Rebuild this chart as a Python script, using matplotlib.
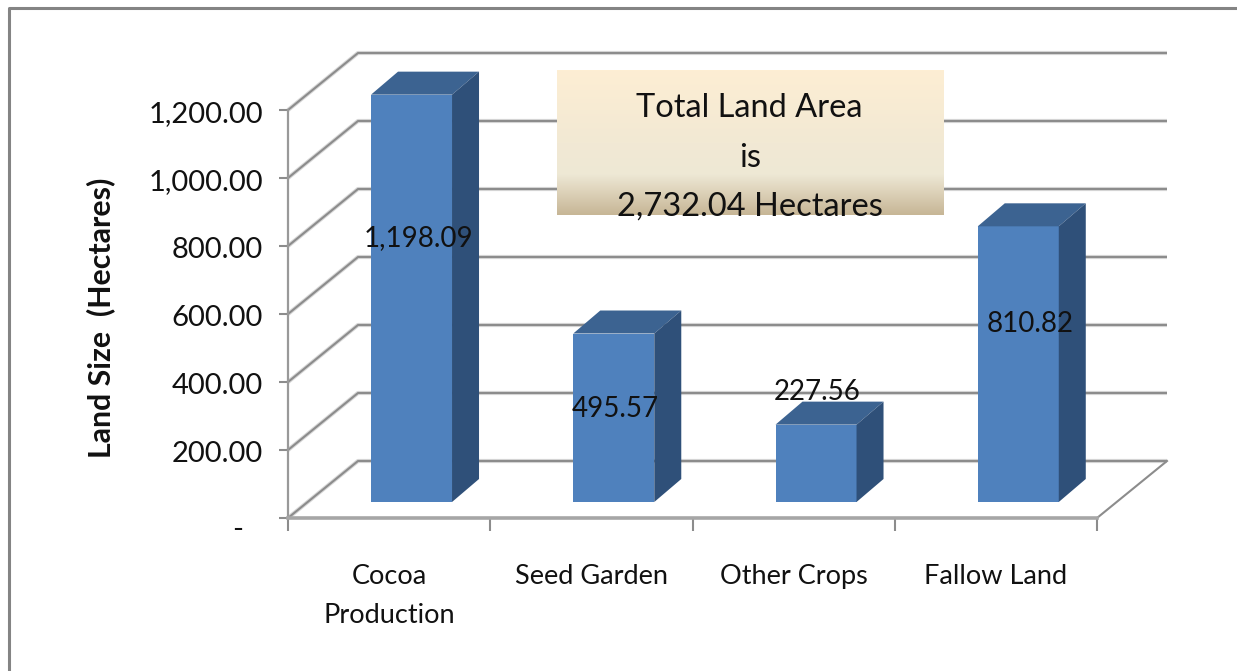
import numpy as np
import matplotlib
matplotlib.use("Agg")
import matplotlib.pyplot as plt
from matplotlib.transforms import ScaledTranslation

plt.rcParams["font.family"] = ["Lato", "DejaVu Sans"]

# Chart data
categories = ["Cocoa\nProduction", "Seed Garden", "Other Crops", "Fallow Land"]
land_size = [1198.09, 495.57, 227.56, 810.82]
land_labels = ["1,198.09", "495.57", "227.56", "810.82"]
y_ticks = [0, 200, 400, 600, 800, 1000, 1200]
y_tick_labels = ["-", "200.00", "400.00", "600.00", "800.00", "1,000.00", "1,200.00"]
box_lines = ["Total Land Area", "is", "2,732.04 Hectares"]

W, H = 1237, 671
# plot area in pixels of the picture
left, right, top, bottom = 288, 1097, 110, 518

fig = plt.figure(figsize=(W / 100, H / 100), dpi=100, facecolor="white")
ax = fig.add_axes([left / W, 1 - bottom / H, (right - left) / W, (bottom - top) / H])
ax.set_xlim(-0.5, 3.5)
ax.set_ylim(0, 1200)
ax.patch.set_visible(False)

# pixel sizes to data units
ux = 4 / (right - left)
uy = 1200 / (bottom - top)

grid_col = "#8c8c8c"
wall_dx, wall_dy = 70 * ux, 57 * uy

# gridlines on side wall and back wall
for v in y_ticks:
    xs = [-0.5, -0.5 + wall_dx, 3.5 + wall_dx]
    ys = [v, v + wall_dy, v + wall_dy]
    ax.plot(xs, ys, color="#d8d8d8", lw=3, clip_on=False, zorder=1, solid_capstyle="butt")
    ax.plot(xs, ys, color=grid_col, lw=1.5, clip_on=False, zorder=1.1, solid_capstyle="butt")

# floor right edge
ax.plot([3.5, 3.5 + wall_dx], [0, wall_dy], color=grid_col, lw=1.5, clip_on=False, zorder=1.1)

# bars
bar_w = 81 * ux
shift_x, shift_y = 22.4 * ux, 16 * uy
dep_x, dep_y = 27 * ux, 23 * uy
x = np.arange(len(categories)) + shift_x
ax.bar(x, land_size, width=bar_w, bottom=shift_y, color="#4f81bd", clip_on=False, zorder=3)
for xi, val in zip(x, land_size):
    l, r = xi - bar_w / 2, xi + bar_w / 2
    b, t = shift_y, shift_y + val
    ax.fill([l, r, r + dep_x, l + dep_x], [t, t, t + dep_y, t + dep_y],
            color="#3c6391", lw=0, clip_on=False, zorder=3)
    ax.fill([r, r + dep_x, r + dep_x, r], [b, b + dep_y, t + dep_y, t],
            color="#2f5079", lw=0, clip_on=False, zorder=3)

# data labels, picture pixels
label_px = [(419, 238), (615, 409), (817, 392), (1030, 324)]
for (px, py), txt in zip(label_px, land_labels):
    fig.text(px / W, 1 - py / H, txt, ha="center", va="center", fontsize=20,
             color="#111111", zorder=5)

# axes
for s in ["top", "right"]:
    ax.spines[s].set_visible(False)
ax.spines["left"].set_color("#999999")
ax.spines["left"].set_linewidth(1.6)
ax.spines["bottom"].set_color("#a6a6a6")
ax.spines["bottom"].set_linewidth(2.6)
ax.set_yticks(y_ticks)
ax.set_yticklabels(y_tick_labels, fontsize=21, color="#111111")
ax.tick_params(axis="y", length=6.5, width=1.5, color=grid_col, pad=11.5)
ax.set_xticks(np.arange(-0.5, 4))
ax.set_xticklabels([])
ax.tick_params(axis="x", length=9, width=1.5, color=grid_col)

# tick labels sit a bit lower, the dash further left as in accounting format
for i, lab in enumerate(ax.get_yticklabels()):
    dx, dy = (-20, -9) if i == 0 else (0, -2)
    lab.set_transform(lab.get_transform() + ScaledTranslation(dx / 100, dy / 100, fig.dpi_scale_trans))

# category labels sit between the ticks
for i, c in enumerate(categories):
    ax.annotate(c, (i, 0), xytext=(0, -33), textcoords="offset points", ha="center",
                va="top", fontsize=19.5, color="#111111", linespacing=1.73,
                annotation_clip=False)

fig.text(101 / W, 1 - 318 / H, "Land Size  (Hectares)", rotation=90, ha="center",
         va="center", fontsize=21.8, fontweight="bold", color="#111111")

# text box with gradient
bx0, bx1, by0, by1 = 557, 944, 70, 215
ax_box = fig.add_axes([bx0 / W, 1 - by1 / H, (bx1 - bx0) / W, (by1 - by0) / H], zorder=2)
stops = np.array([[253, 238, 211], [242, 233, 212], [238, 232, 213], [199, 182, 150]]) / 255
pos = [0, 0.5, 0.72, 1]
grad = np.stack([np.interp(np.linspace(0, 1, 145), pos, stops[:, k]) for k in range(3)], axis=1)
ax_box.imshow(grad[:, None, :], aspect="auto")
ax_box.axis("off")
for (px, py), line in zip([(749, 108), (750, 158), (750, 207)], box_lines):
    fig.text(px / W, 1 - py / H, line, ha="center", va="center", fontsize=23.5,
             color="#111111", zorder=6)

# outer frame
fig.add_artist(plt.Line2D([9 / W, 9 / W, 1], [0, 1 - 7.5 / H, 1 - 7.5 / H], color="#848484", lw=2.2))

fig.savefig("out.png", dpi=100)
